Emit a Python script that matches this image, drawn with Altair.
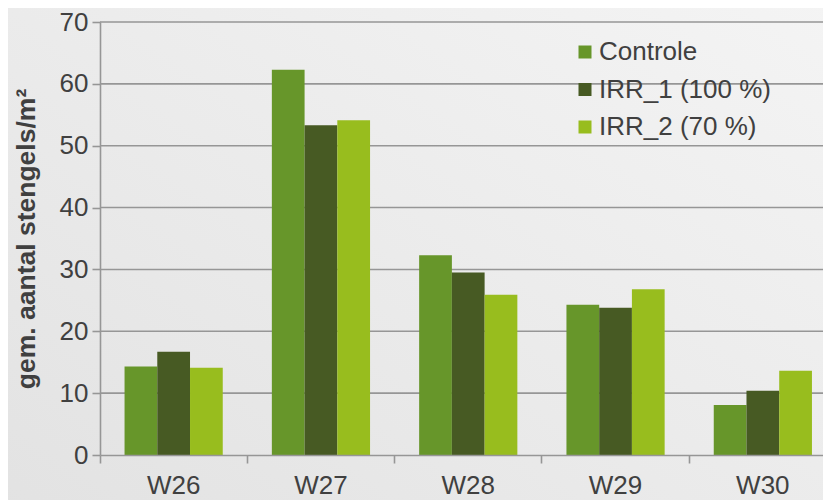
import altair as alt
import pandas as pd

weeks = ["W26", "W27", "W28", "W29", "W30"]
series = ["Controle", "IRR_1 (100 %)", "IRR_2 (70 %)"]
controle = [14.3, 62.3, 32.3, 24.3, 8.1]
irr1 = [16.7, 53.3, 29.5, 23.8, 10.4]
irr2 = [14.1, 54.1, 25.9, 26.8, 13.6]
colors = ["#67962a", "#475a23", "#98bd1e"]
y_ticks = [10, 20, 30, 40, 50, 60, 70]

rows = []
for name, vals in zip(series, [controle, irr1, irr2]):
    for w, v in zip(weeks, vals):
        rows.append({"week": w, "serie": name, "value": v})
df = pd.DataFrame(rows)
grid_df = pd.DataFrame({"v": y_ticks})

W, H = 723, 433
XRANGE = 736.5
FONT = "Liberation Sans"
TXT = "#404040"
GRID = "#969696"

bg = alt.Chart(pd.DataFrame({"a": [0]})).mark_rect(
    fill=alt.LinearGradient(
        gradient="linear",
        stops=[alt.GradientStop(color="#e2e2e2", offset=0),
               alt.GradientStop(color="#f4f4f4", offset=1)],
        x1=0, y1=1, x2=1, y2=0,
    )
).encode(x=alt.value(-100), x2=alt.value(W + 10), y=alt.value(-20), y2=alt.value(H + 80))

grid = alt.Chart(grid_df).mark_rule(color=GRID, strokeWidth=1.6).encode(
    y=alt.Y("v:Q", scale=alt.Scale(domain=[0, 70])),
    x=alt.value(0), x2=alt.value(W),
)

bars = alt.Chart(df).mark_bar().encode(
    x=alt.X("week:N", sort=weeks, title=None,
            scale=alt.Scale(paddingInner=0, paddingOuter=0, range=[0, XRANGE]),
            axis=alt.Axis(bandPosition=0, labelAngle=0,
                          labelFont=FONT, labelFontSize=26, labelColor=TXT, labelPadding=9,
                          tickSize=8, tickColor=GRID, tickWidth=1.6,
                          domainColor=GRID, domainWidth=1.6, grid=False, zindex=1)),
    xOffset=alt.XOffset("serie:N", sort=series,
                        scale=alt.Scale(paddingInner=0, paddingOuter=0.75)),
    y=alt.Y("value:Q", scale=alt.Scale(domain=[0, 70]),
            title="gem. aantal stengels/m²",
            axis=alt.Axis(values=[0, 10, 20, 30, 40, 50, 60, 70], grid=False,
                          labelFont=FONT, labelFontSize=26, labelColor=TXT, labelPadding=4,
                          tickSize=8, tickColor=GRID, tickWidth=1.6,
                          domainColor=GRID, domainWidth=1.6,
                          titleFont=FONT, titleFontSize=26.5, titleFontWeight="bold",
                          titleColor=TXT, titleX=-60, titleY=H / 2, zindex=1)),
    color=alt.Color("serie:N", sort=series,
                    scale=alt.Scale(domain=series, range=colors),
                    legend=alt.Legend(title=None, orient="none", legendX=472, legendY=17,
                                      symbolType="square", symbolSize=169, symbolStrokeWidth=0,
                                      labelFont=FONT, labelFontSize=26, labelColor=TXT,
                                      labelLimit=400,
                                      labelOffset=1, rowPadding=11.5, padding=0, zindex=1)),
)

chart = alt.layer(bg, grid, bars).properties(
    width=W, height=H,
    autosize=alt.AutoSizeParams(type="none"),
    padding={"left": 92, "top": 14, "right": 0, "bottom": 50},
).configure_view(stroke=None)

chart.save("out.html", embed_options={"renderer": "svg", "actions": False})
